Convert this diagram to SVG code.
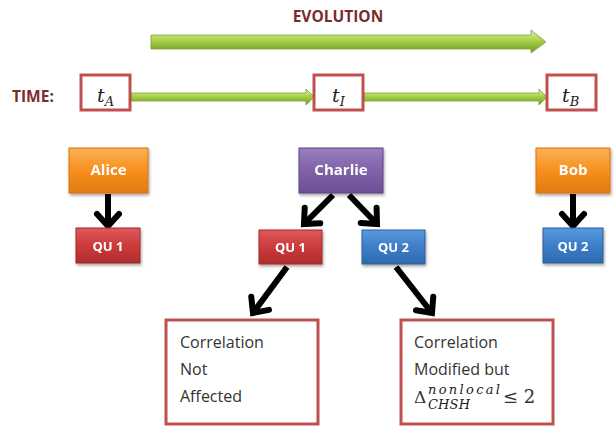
<svg xmlns="http://www.w3.org/2000/svg" width="616" height="435" viewBox="0 0 616 435">
<defs>
<linearGradient id="gGreen" x1="0" y1="0" x2="0" y2="1">
<stop offset="0" stop-color="#e3f4a8"/><stop offset="0.45" stop-color="#a9d24a"/><stop offset="1" stop-color="#6f9a22"/>
</linearGradient>
<linearGradient id="gOrange" x1="0" y1="0" x2="0" y2="1">
<stop offset="0" stop-color="#fbb155"/><stop offset="0.5" stop-color="#f7901e"/><stop offset="1" stop-color="#e07a10"/>
</linearGradient>
<linearGradient id="gPurple" x1="0" y1="0" x2="0" y2="1">
<stop offset="0" stop-color="#9b7fc0"/><stop offset="0.5" stop-color="#8062a8"/><stop offset="1" stop-color="#6c4f94"/>
</linearGradient>
<linearGradient id="gRed" x1="0" y1="0" x2="0" y2="1">
<stop offset="0" stop-color="#e0585a"/><stop offset="0.5" stop-color="#cc3b3b"/><stop offset="1" stop-color="#b02c2e"/>
</linearGradient>
<linearGradient id="gBlue" x1="0" y1="0" x2="0" y2="1">
<stop offset="0" stop-color="#5a99dd"/><stop offset="0.5" stop-color="#3d7ec8"/><stop offset="1" stop-color="#2f69ad"/>
</linearGradient>
<filter id="sh" x="-20%" y="-20%" width="140%" height="150%">
<feDropShadow dx="1" dy="2" stdDeviation="1.5" flood-color="#000" flood-opacity="0.35"/>
</filter>
<marker id="chev" markerUnits="userSpaceOnUse" markerWidth="34" markerHeight="34" refX="0" refY="0" viewBox="-17 -17 34 34" orient="auto">
<path d="M-12,-11 L0,0 L-12,11" fill="none" stroke="#000" stroke-width="6" stroke-linejoin="miter" stroke-linecap="round"/>
</marker>
<style>
.title{font-family:"Open Sans","Liberation Sans",sans-serif;font-weight:bold;fill:#7b2b2e;font-size:15.5px}
.tbox{fill:#fff;stroke:#c0504d;stroke-width:3}
.math{font-family:"DejaVu Serif","Liberation Serif",serif;font-style:italic;fill:#222}
.lbl{font-family:"Open Sans","Liberation Sans",sans-serif;font-weight:bold;fill:#fff;font-size:15px;text-anchor:middle}
.qlbl{font-family:"Open Sans","Liberation Sans",sans-serif;font-weight:bold;fill:#fff;font-size:13px;text-anchor:middle}
.body{font-family:"Open Sans","Liberation Sans",sans-serif;fill:#333;font-size:16px}
.conn{stroke:#000;stroke-width:6;fill:none;marker-end:url(#chev)}
.garrow{fill:url(#gGreen);stroke:#7f9f3a;stroke-width:0.8}
</style>
</defs>
<rect width="616" height="435" fill="#fff"/>

<text class="title" x="338" y="22" text-anchor="middle">EVOLUTION</text>
<text class="title" x="12" y="102" font-size="16.5px">TIME:</text>

<g id="connectors">
<polygon class="garrow" points="151,35 531,35 531,30 546,42 531,53 531,49 151,49"/>
<polygon class="garrow" points="131,93 306,93 306,89 314,97 306,105 306,101 131,101"/>
<polygon class="garrow" points="364,93 539,93 539,89 547,97 539,105 539,101 364,101"/>
<line class="conn" x1="108" y1="194" x2="108" y2="226"/>
<line class="conn" x1="333" y1="195" x2="304" y2="224"/>
<line class="conn" x1="349" y1="195" x2="377" y2="224"/>
<line class="conn" x1="573" y1="194" x2="573" y2="226"/>
<line class="conn" x1="287" y1="267" x2="253" y2="313"/>
<line class="conn" x1="396" y1="267" x2="432" y2="313"/>
</g>

<g id="tA">
<rect class="tbox" x="81" y="75" width="49" height="35"/>
<text class="math" x="97" y="102" font-size="19">t<tspan font-size="13" dy="4">A</tspan></text>
</g>
<g id="tI">
<rect class="tbox" x="314" y="75" width="49" height="35"/>
<text class="math" x="332" y="102" font-size="19">t<tspan font-size="13" dy="4">I</tspan></text>
</g>
<g id="tB">
<rect class="tbox" x="547" y="75" width="49" height="35"/>
<text class="math" x="562" y="102" font-size="19">t<tspan font-size="13" dy="4">B</tspan></text>
</g>

<g id="alice" filter="url(#sh)">
<rect x="69" y="148" width="79" height="45" fill="url(#gOrange)" stroke="#d9730f" stroke-width="1"/>
<text class="lbl" x="108.5" y="175">Alice</text>
</g>
<g id="charlie" filter="url(#sh)">
<rect x="299" y="148" width="84" height="45" fill="url(#gPurple)" stroke="#5e4585" stroke-width="1"/>
<text class="lbl" x="341" y="175">Charlie</text>
</g>
<g id="bob" filter="url(#sh)">
<rect x="536" y="148" width="74" height="45" fill="url(#gOrange)" stroke="#d9730f" stroke-width="1"/>
<text class="lbl" x="573" y="175">Bob</text>
</g>

<g id="qu1-alice" filter="url(#sh)">
<rect x="76" y="228" width="64" height="35" fill="url(#gRed)" stroke="#9e2a2a" stroke-width="1"/>
<text class="qlbl" x="108" y="251">QU 1</text>
</g>
<g id="qu1-charlie" filter="url(#sh)">
<rect x="259" y="230" width="63" height="34" fill="url(#gRed)" stroke="#9e2a2a" stroke-width="1"/>
<text class="qlbl" x="290.5" y="252">QU 1</text>
</g>
<g id="qu2-charlie" filter="url(#sh)">
<rect x="362" y="230" width="63" height="34" fill="url(#gBlue)" stroke="#2a5d9a" stroke-width="1"/>
<text class="qlbl" x="393.5" y="252">QU 2</text>
</g>
<g id="qu2-bob" filter="url(#sh)">
<rect x="543" y="228" width="60" height="35" fill="url(#gBlue)" stroke="#2a5d9a" stroke-width="1"/>
<text class="qlbl" x="573" y="251">QU 2</text>
</g>

<g id="result-left">
<rect class="tbox" x="166" y="320" width="152" height="104"/>
<text class="body" x="180" y="348">Correlation</text>
<text class="body" x="180" y="375">Not</text>
<text class="body" x="180" y="402">Affected</text>
</g>
<g id="result-right">
<rect class="tbox" x="401" y="320" width="152" height="104"/>
<text class="body" x="414" y="348">Correlation</text>
<text class="body" x="414" y="375">Modified but</text>
<text x="414" y="403" font-family="DejaVu Serif, serif" font-size="17" fill="#333">Δ</text>
<text class="math" x="428" y="394" font-size="13" textLength="72" lengthAdjust="spacing">nonlocal</text>
<text class="math" x="428" y="409" font-size="13" textLength="42" lengthAdjust="spacing">CHSH</text>
<text x="503" y="403" font-family="DejaVu Serif, serif" font-size="18" fill="#333">≤ 2</text>
</g>
</svg>
